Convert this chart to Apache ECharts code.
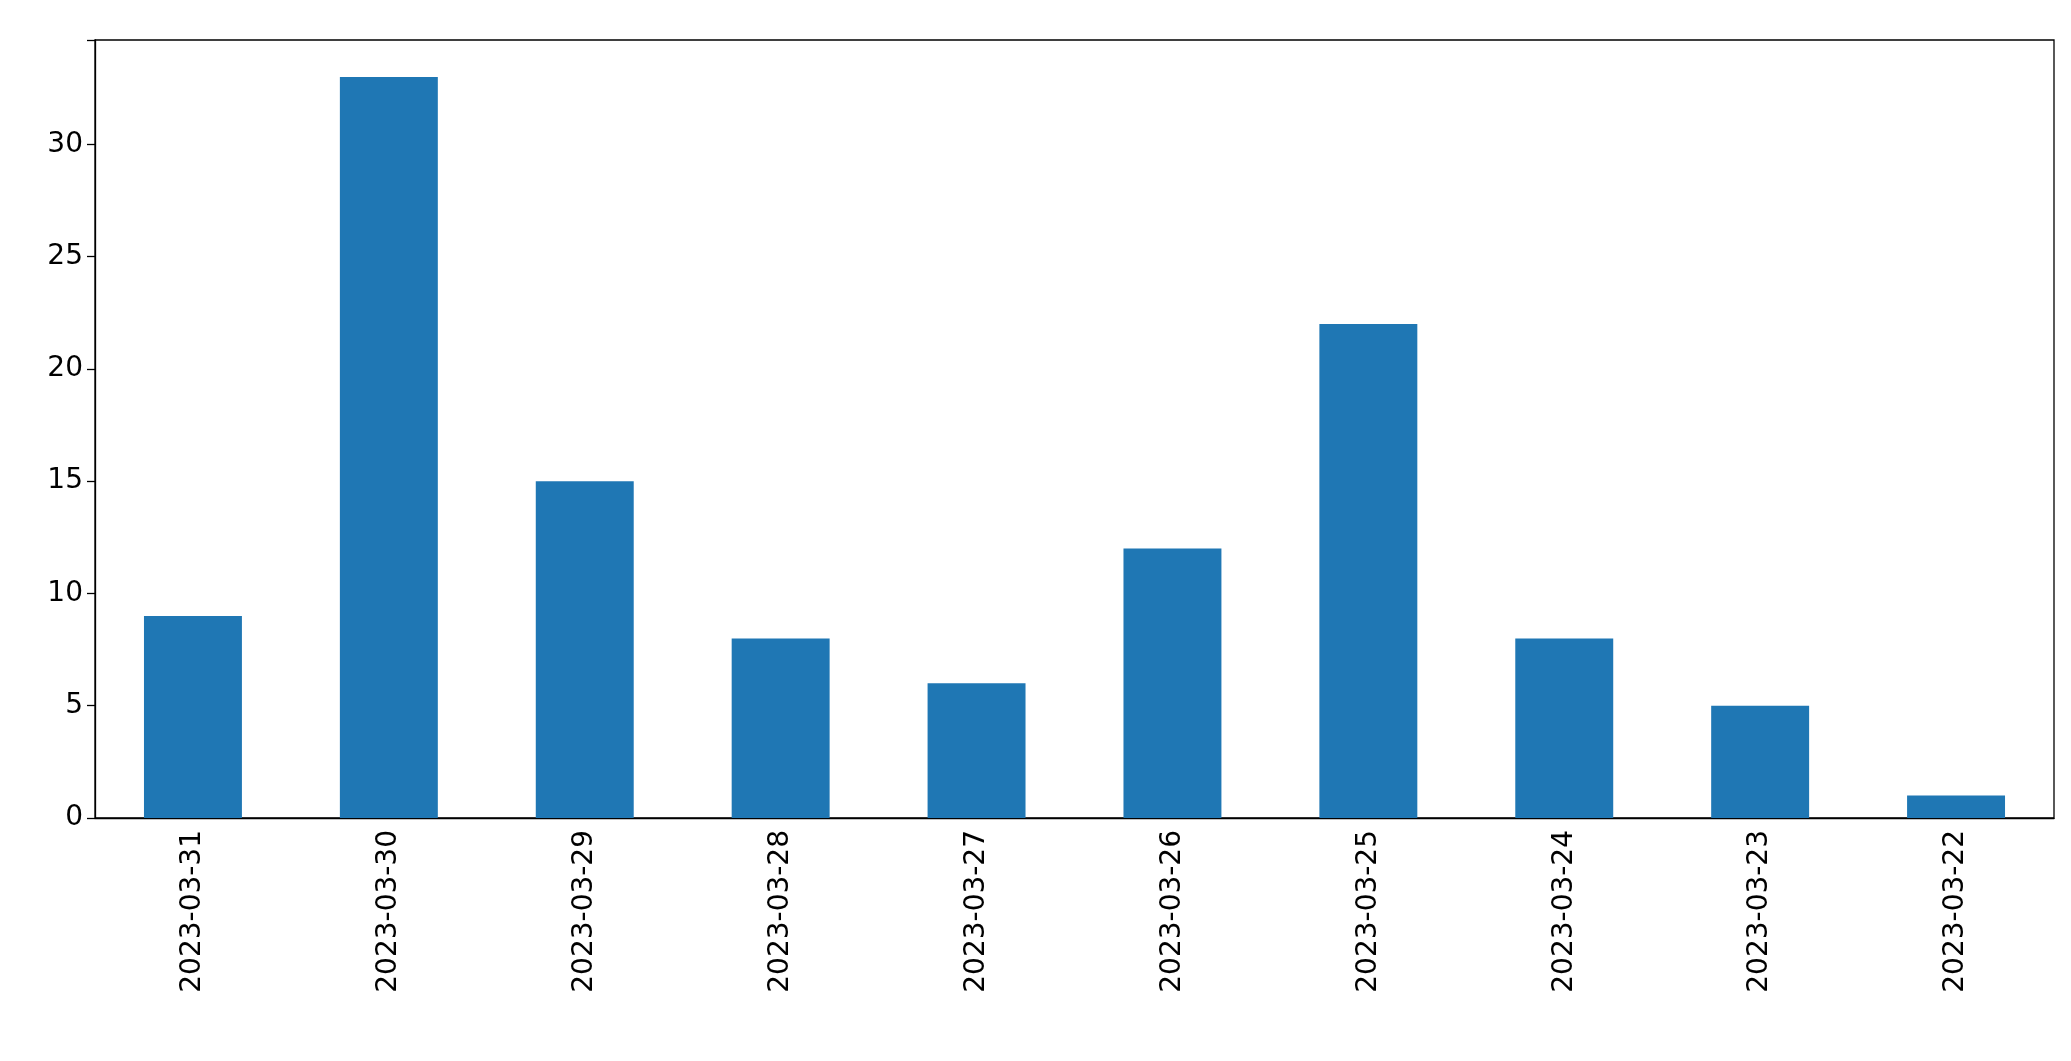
<!DOCTYPE html>
<html>
<head>
<meta charset="utf-8">
<script src="https://cdn.jsdelivr.net/npm/echarts@6/dist/echarts.min.js"></script>
<style>html,body{margin:0;padding:0;background:#fff}#main{width:2071px;height:1061px}</style>
</head>
<body>
<div id="main"></div>
<script>
var categories = ['2023-03-31','2023-03-30','2023-03-29','2023-03-28','2023-03-27','2023-03-26','2023-03-25','2023-03-24','2023-03-23','2023-03-22'];
var counts = [9, 33, 15, 8, 6, 12, 22, 8, 5, 1];

var myChart = echarts.init(document.getElementById('main'));
var option = {
    animation: false,
    grid: {
        left: 95, right: 17, top: 40, bottom: 243,
        show: true, borderColor: '#000', borderWidth: 1.3
    },
    xAxis: {
        type: 'category',
        data: categories,
        axisLine: { lineStyle: { color: '#000', width: 1.3 } },
        axisTick: { alignWithLabel: true, length: 8, lineStyle: { color: '#000', width: 1.3 } },
        axisLabel: { rotate: 90, color: '#000', fontSize: 28, margin: 12, fontFamily: 'DejaVu Sans' }
    },
    yAxis: {
        type: 'value',
        min: 0, max: 34.65, interval: 5,
        splitLine: { show: false },
        axisLine: { show: true, lineStyle: { color: '#000', width: 1.3 } },
        axisTick: { show: true, length: 8, lineStyle: { color: '#000', width: 1.3 } },
        axisLabel: {
            color: '#000', fontSize: 28, margin: 12, fontFamily: 'DejaVu Sans',
            formatter: function (v) { return v % 5 === 0 ? v : ''; }
        }
    },
    series: [{
        type: 'bar',
        data: counts,
        barWidth: '50%',
        itemStyle: { color: '#1f77b4' }
    }]
};
myChart.setOption(option);
</script>
</body>
</html>
